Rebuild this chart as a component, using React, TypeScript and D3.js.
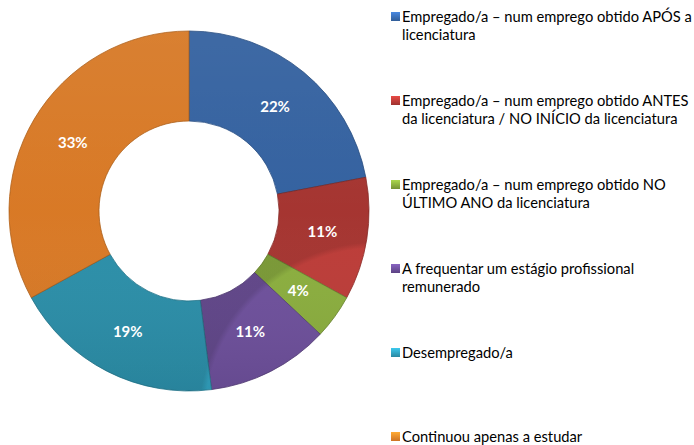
import React from "react";
import * as d3 from "d3";

// categorias e valores (%)
const categories = [
  ["Empregado/a – num emprego obtido APÓS a", "licenciatura"],
  ["Empregado/a – num emprego obtido ANTES", "da licenciatura / NO INÍCIO da licenciatura"],
  ["Empregado/a – num emprego obtido NO", "ÚLTIMO ANO da licenciatura"],
  ["A frequentar um estágio profissional", "remunerado"],
  ["Desempregado/a"],
  ["Continuou apenas a estudar"],
];
const values = [22, 11, 4, 11, 19, 33];
const colors = ["#3b6fb6", "#bc3c38", "#8bae3e", "#6e509c", "#31a2c0", "#f68a2b"];

export default function App() {
  const width = 694,
    height = 445;
  const cx = 189,
    cy = 211;
  const outer = 180,
    inner = 90;

  const pie = d3.pie<number>().sort(null).value((d) => d);
  const arcs = pie(values);
  const arc = d3.arc<d3.PieArcDatum<number>>().innerRadius(inner).outerRadius(outer);
  const ring = d3.arc()({ innerRadius: inner, outerRadius: outer, startAngle: 0, endAngle: Math.PI * 2 }) || "";

  // legenda
  const legX = 391,
    legY0 = 17,
    legStep = 84,
    lineH = 18;

  return (
    <div style={{ position: "absolute", left: 0, top: 0 }}>
      <svg width={width} height={height} style={{ display: "block" }}>
        <defs>
          <linearGradient id="shade" x1="0" y1="0" x2="0" y2="1">
            <stop offset="0" stopColor="#fff" stopOpacity={0.06} />
            <stop offset="0.5" stopColor="#fff" stopOpacity={0} />
            <stop offset="1" stopColor="#000" stopOpacity={0.08} />
          </linearGradient>
          <radialGradient id="bevel" cx={cx} cy={cy} r={outer} gradientUnits="userSpaceOnUse">
            <stop offset={inner / outer} stopColor="#fff" stopOpacity={0.2} />
            <stop offset={(inner + 5) / outer} stopColor="#fff" stopOpacity={0} />
            <stop offset={(outer - 6) / outer} stopColor="#000" stopOpacity={0} />
            <stop offset="1" stopColor="#000" stopOpacity={0.12} />
          </radialGradient>
          {colors.map((c, i) => (
            <linearGradient key={i} id={`leg${i}`} x1="0" y1="0" x2="0" y2="1">
              <stop offset="0" stopColor={d3.color(c)!.brighter(0.6).formatHex()} />
              <stop offset="1" stopColor={d3.color(c)!.darker(0.5).formatHex()} />
            </linearGradient>
          ))}
        </defs>
        <g transform={`translate(${cx},${cy})`}>
          {arcs.map((a, i) => (
            <path
              key={i}
              d={arc(a) || ""}
              fill={colors[i]}
              stroke={d3.color(colors[i])!.darker(0.8).formatHex()}
              strokeWidth={0.8}
            />
          ))}
          <path d={ring} fill="url(#shade)" />
        </g>
        <path d={ring} transform={`translate(${cx},${cy})`} fill="url(#bevel)" />
        <g transform={`translate(${cx},${cy})`}>
          {arcs.map((a, i) => {
            const [x, y] = arc.centroid(a);
            return (
              <text
                key={i}
                x={x}
                y={y}
                dy="0.35em"
                textAnchor="middle"
                fill="#fff"
                fontFamily="Lato, 'Open Sans', sans-serif"
                fontWeight="bold"
                fontSize={15}
              >
                {`${values[i]}%`}
              </text>
            );
          })}
        </g>
        <g fontFamily="Lato, 'Open Sans', sans-serif" fontSize={14.7} fill="#000">
          {categories.map((lines, i) => {
            const y = legY0 + i * legStep;
            return (
              <g key={i}>
                <rect x={legX} y={y - 5} width={9} height={9} fill={`url(#leg${i})`} />
                {lines.map((t, j) => (
                  <text key={j} x={legX + 11} y={y + j * lineH} dy="0.35em">
                    {t}
                  </text>
                ))}
              </g>
            );
          })}
        </g>
      </svg>
    </div>
  );
}
